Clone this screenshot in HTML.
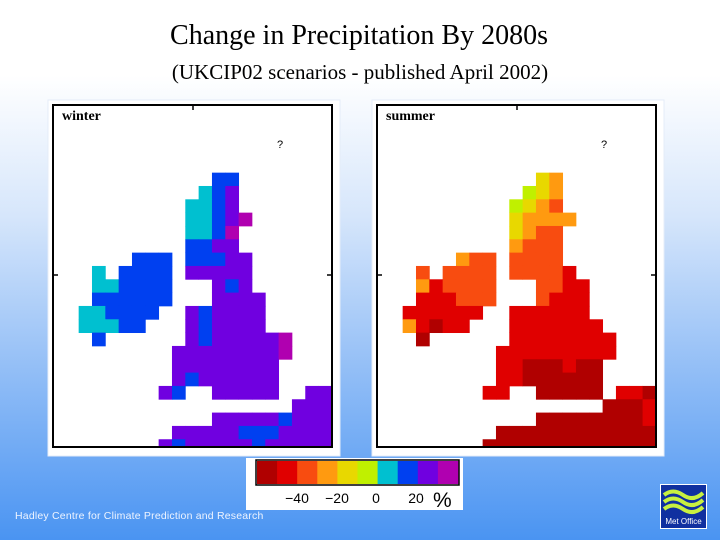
<!DOCTYPE html>
<html><head><meta charset="utf-8">
<style>
html,body{margin:0;padding:0}
body{width:720px;height:540px;overflow:hidden;position:relative;background:linear-gradient(to bottom,#ffffff 0%,#ffffff 14%,#d6e6fb 40%,#8fbcf6 70%,#4a94f2 100%);font-family:"Liberation Serif",serif}
.title{position:absolute;left:0;width:720px;text-align:center;color:#000}
</style></head><body>
<div class="title" style="top:20px;font-size:28px;left:-1px">Change in Precipitation By 2080s</div>
<div class="title" style="top:60px;font-size:21px">(UKCIP02 scenarios - published April 2002)</div>
<svg id="maps" width="720" height="540" style="position:absolute;left:0;top:0"></svg>
<div style="position:absolute;left:15px;top:510px;font-family:'Liberation Sans',sans-serif;font-size:10.5px;color:#eef4ff;letter-spacing:0.2px">Hadley Centre for Climate Prediction and Research</div>
<div style="position:absolute;left:660px;top:484px;width:45px;height:43px;background:#1030a0;border:1px solid #fff">
<svg width="45" height="43" style="position:absolute;left:0;top:0"><path d="M3 10 Q12 3 22 10 T42 8 M3 17 Q12 10 22 17 T42 15 M3 24 Q12 17 22 24 T42 22" stroke="#c8f040" stroke-width="4" fill="none"/></svg>
<div style="position:absolute;left:0;top:32px;width:45px;text-align:center;font-family:'Liberation Sans',sans-serif;font-size:8px;color:#fff">Met Office</div></div>
<script>
const palette=["#b00000","#e00000","#f84c10","#ff9a10","#e8d800","#c0f000","#00c0d0","#0040f0","#7000e0","#b000b0"];
const legendLabels=["-40","-20","0","20"];
const winterRows=[
".....................",".....................",".....................",".....................",".....................",
"............77.......",
"...........678.......",
"..........6678.......",
"..........66789......",
"..........6679.......",
"..........7788.......",
"......777.77788......",
"...6.7777.88888......",
"...667777...878......",
"...777777...8888.....",
"..667777..878888.....",
"..66677...878888.....",
"...7......87888889...",
".........888888889...",
".........88888888....",
".........87888888....",
"........87..88888..88",
"..................888",
"............888887888",
".........888887778888",
"........8788888788888"];
const summerRows=[
".....................",".....................",".....................",".....................",".....................",
"............43.......",
"...........543.......",
"..........5432.......",
"..........43333......",
"..........4322.......",
"..........3222.......",
"......322.2222.......",
"...2.2222.22221......",
"...312222...2211.....",
"...111222...2111.....",
"..111111..111111.....",
"..31011...1111111....",
"...0......11111111...",
".........111111111...",
".........11000100....",
".........11000000....",
"........11..00000.110",
".................0001",
"............000000001",
".........000000000000",
"........0000000000000"];
const svg=document.getElementById('maps');
const NS="http://www.w3.org/2000/svg";
function mk(t,a){const e=document.createElementNS(NS,t);for(const k in a)e.setAttribute(k,a[k]);svg.appendChild(e);return e;}
const cell=13.33;
function cx(c,ox){return ox+c*cell;}
function cy(r){return 106+r*cell;}
function panel(ox,rows,label,name){
  const p=mk('rect',{x:ox-4,y:100,width:292,height:356,fill:'#fff',stroke:'#e4ecf8','stroke-width':1});
  
  
  rows.forEach((row,r)=>{for(let c=0;c<row.length;c++){const ch=row[c];if(ch==='.')continue;
    const y0=cy(r),y1=Math.min(cy(r+1),447);if(y1<=y0)continue;
    const x0=cx(c,ox),x1=Math.min(cx(c+1,ox),ox+280);if(x1<=x0)continue;
    const e=mk('rect',{x:x0,y:y0,width:x1-x0+0.4,height:y1-y0+0.4,fill:palette[+ch]});
    
    }});
  const f=mk('rect',{x:ox+1,y:105,width:279,height:342,fill:'none',stroke:'#000','stroke-width':2});
  
  
  mk('line',{x1:ox+141,y1:105,x2:ox+141,y2:110,stroke:'#000','stroke-width':1.5});
  mk('line',{x1:ox+1,y1:275,x2:ox+6,y2:275,stroke:'#000','stroke-width':1.5});
  mk('line',{x1:ox+275,y1:275,x2:ox+280,y2:275,stroke:'#000','stroke-width':1.5});
  const t=mk('text',{x:ox+10,y:120,'font-family':'Liberation Serif, serif','font-size':14,'font-weight':'bold',fill:'#000'});
  t.textContent=label;
  
  
  const q=mk('text',{x:ox+225,y:148,'font-family':'Liberation Sans, sans-serif','font-size':11,fill:'#000'});q.textContent='?';
}
panel(52,winterRows,'winter','winter-map');
panel(376,summerRows,'summer','summer-map');
const lb=mk('rect',{x:246,y:458,width:217,height:52,fill:'#fff'});


palette.forEach((col,i)=>{const e=mk('rect',{x:257+i*20.1,y:461,width:20.5,height:23,fill:col});
  
  });
mk('rect',{x:256,y:460,width:203,height:25,fill:'none',stroke:'#000','stroke-width':1.5});
legendLabels.forEach((l,i)=>{const t=mk('text',{x:[297,337,376,416][i],y:503,'text-anchor':'middle','font-family':'Liberation Sans, sans-serif','font-size':14,fill:'#000'});
  t.textContent=l.replace('-','\u2212');
  
  });
const pc=mk('text',{x:433,y:507,'font-family':'Liberation Sans, sans-serif','font-size':21,fill:'#000'});pc.textContent='%';


</script>
</body></html>
